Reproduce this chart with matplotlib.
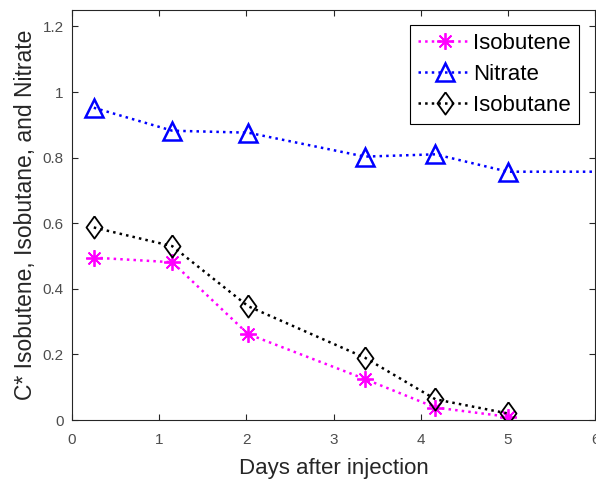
import numpy as np
import matplotlib
matplotlib.use("Agg")
import matplotlib.pyplot as plt

plt.rcParams['font.family'] = ['Liberation Sans', 'DejaVu Sans']

# days after injection
days = [0.25, 1.15, 2.02, 3.36, 4.17, 5.0]
days_nitrate = [0.25, 1.15, 2.02, 3.36, 4.17, 5.0, 7.0]

isobutene = [0.495, 0.481, 0.262, 0.125, 0.038, 0.010]
nitrate = [0.952, 0.882, 0.876, 0.803, 0.810, 0.757, 0.757]
isobutane = [0.587, 0.530, 0.347, 0.190, 0.063, 0.020]

axcol = '#262626'
diamond = [(0, 1), (0.72, 0), (0, -1), (-0.72, 0), (0, 1)]

fig = plt.figure(figsize=(5.96, 4.8), dpi=100)
ax = fig.add_axes([72/596, 60/480, 523/596, 410/480])

ax.plot(days, isobutene, ':', color='#ff00ff', lw=1.8, marker=(8, 2, 0),
        ms=12, mew=1.3, label='Isobutene')
ax.plot(days_nitrate, nitrate, ':', color='#0000ff', lw=1.8, marker='^',
        ms=13, mew=1.8, mfc='none', label='Nitrate')
ax.plot(days, isobutane, ':', color='black', lw=1.8, marker=diamond,
        ms=16, mew=1.3, mfc='none', label='Isobutane')

ax.set_xlim(0, 6)
ax.set_ylim(0, 1.25)
ax.set_xticks(np.arange(0, 7, 1))
ax.set_yticks([0, 0.2, 0.4, 0.6, 0.8, 1.0, 1.2])
ax.set_yticklabels(['0', '0.2', '0.4', '0.6', '0.8', '1', '1.2'])

ax.tick_params(direction='in', top=True, right=True, length=4, width=0.8,
               colors=axcol, labelsize=11, labelcolor='#4d4d4d')
ax.tick_params(axis='y', pad=6)
ax.tick_params(axis='x', pad=9)
for s in ax.spines.values():
    s.set_color(axcol)
    s.set_linewidth(0.8)

ax.set_xlabel('Days after injection', fontsize=16, color=axcol, labelpad=8)
ax.set_ylabel('C* Isobutene, Isobutane, and Nitrate', fontsize=16.5,
              color=axcol, labelpad=4)

leg = ax.legend(loc='upper right', bbox_to_anchor=(579/596, 1 - 25/480),
                bbox_transform=fig.transFigure, fontsize=16, fancybox=False,
                edgecolor='black', framealpha=1, borderaxespad=0,
                handlelength=2.4, handletextpad=0.1, labelspacing=0.45,
                borderpad=0.35)
leg.get_frame().set_linewidth(0.8)

fig.savefig('out.png', dpi=100)
